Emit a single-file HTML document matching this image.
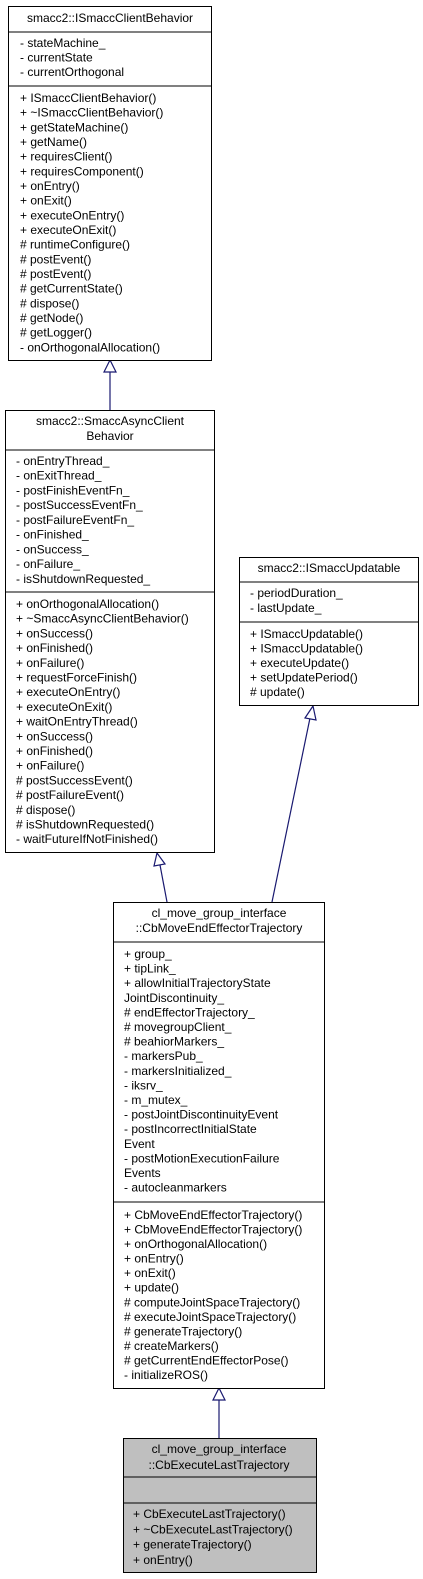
<!DOCTYPE html>
<html><head><meta charset="utf-8"><style>
html,body{margin:0;padding:0;background:#fff;}
svg{display:block;}
text{font-family:"Liberation Sans",Arial,sans-serif;fill:#000;font-size:12px;}
</style></head><body>
<svg width="423" height="1579" viewBox="0 0 423 1579" xmlns="http://www.w3.org/2000/svg">
<g stroke="#191970" stroke-width="1.2" fill="none">
<line x1="110" y1="372" x2="110" y2="410"/>
<line x1="160" y1="865" x2="167" y2="902"/>
<line x1="310" y1="718" x2="272" y2="902"/>
<line x1="219" y1="1400" x2="219" y2="1438"/>
</g>
<g stroke="#191970" stroke-width="1.2" fill="#fff">
<polygon points="110,360 104,372 116,372"/>
<polygon points="157,853 154,866 165,864"/>
<polygon points="313,706 305,718 316,720"/>
<polygon points="219,1388 213,1400 225,1400"/>
</g>

<!-- Box1 -->
<rect x="8.5" y="6.5" width="203" height="354" fill="#fff" stroke="#000"/>
<line x1="8.5" y1="32" x2="211.5" y2="32" stroke="#000"/>
<line x1="8.5" y1="86" x2="211.5" y2="86" stroke="#000"/>
<text x="110" y="22" text-anchor="middle">smacc2::ISmaccClientBehavior</text>
<text x="20" y="47">- stateMachine_</text>
<text x="20" y="61.5">- currentState</text>
<text x="20" y="76">- currentOrthogonal</text>
<text x="20" y="102">+ ISmaccClientBehavior()</text>
<text x="20" y="116.6">+ ~ISmaccClientBehavior()</text>
<text x="20" y="131.3">+ getStateMachine()</text>
<text x="20" y="146">+ getName()</text>
<text x="20" y="160.6">+ requiresClient()</text>
<text x="20" y="175.3">+ requiresComponent()</text>
<text x="20" y="190">+ onEntry()</text>
<text x="20" y="204.6">+ onExit()</text>
<text x="20" y="219.3">+ executeOnEntry()</text>
<text x="20" y="234">+ executeOnExit()</text>
<text x="20" y="248.6"># runtimeConfigure()</text>
<text x="20" y="263.3"># postEvent()</text>
<text x="20" y="278"># postEvent()</text>
<text x="20" y="292.6"># getCurrentState()</text>
<text x="20" y="307.3"># dispose()</text>
<text x="20" y="322"># getNode()</text>
<text x="20" y="336.6"># getLogger()</text>
<text x="20" y="351.3">- onOrthogonalAllocation()</text>

<!-- Box2 -->
<rect x="5.5" y="410.5" width="209" height="442" fill="#fff" stroke="#000"/>
<line x1="5.5" y1="450" x2="214.5" y2="450" stroke="#000"/>
<line x1="5.5" y1="592" x2="214.5" y2="592" stroke="#000"/>
<text x="110" y="425" text-anchor="middle">smacc2::SmaccAsyncClient</text>
<text x="110" y="440" text-anchor="middle">Behavior</text>
<text x="16" y="465">- onEntryThread_</text>
<text x="16" y="479.7">- onExitThread_</text>
<text x="16" y="494.5">- postFinishEventFn_</text>
<text x="16" y="509.2">- postSuccessEventFn_</text>
<text x="16" y="524">- postFailureEventFn_</text>
<text x="16" y="538.7">- onFinished_</text>
<text x="16" y="553.5">- onSuccess_</text>
<text x="16" y="568.2">- onFailure_</text>
<text x="16" y="583">- isShutdownRequested_</text>
<text x="16" y="608">+ onOrthogonalAllocation()</text>
<text x="16" y="622.7">+ ~SmaccAsyncClientBehavior()</text>
<text x="16" y="637.4">+ onSuccess()</text>
<text x="16" y="652.1">+ onFinished()</text>
<text x="16" y="666.8">+ onFailure()</text>
<text x="16" y="681.5">+ requestForceFinish()</text>
<text x="16" y="696.2">+ executeOnEntry()</text>
<text x="16" y="710.9">+ executeOnExit()</text>
<text x="16" y="725.6">+ waitOnEntryThread()</text>
<text x="16" y="740.3">+ onSuccess()</text>
<text x="16" y="755">+ onFinished()</text>
<text x="16" y="769.7">+ onFailure()</text>
<text x="16" y="784.4"># postSuccessEvent()</text>
<text x="16" y="799.1"># postFailureEvent()</text>
<text x="16" y="813.8"># dispose()</text>
<text x="16" y="828.5"># isShutdownRequested()</text>
<text x="16" y="843.2">- waitFutureIfNotFinished()</text>

<!-- Box3 -->
<rect x="239.5" y="557.5" width="179" height="148" fill="#fff" stroke="#000"/>
<line x1="239.5" y1="582" x2="418.5" y2="582" stroke="#000"/>
<line x1="239.5" y1="622" x2="418.5" y2="622" stroke="#000"/>
<text x="329" y="572" text-anchor="middle">smacc2::ISmaccUpdatable</text>
<text x="250" y="597">- periodDuration_</text>
<text x="250" y="612">- lastUpdate_</text>
<text x="250" y="638">+ ISmaccUpdatable()</text>
<text x="250" y="652.5">+ ISmaccUpdatable()</text>
<text x="250" y="667">+ executeUpdate()</text>
<text x="250" y="681.5">+ setUpdatePeriod()</text>
<text x="250" y="696"># update()</text>

<!-- Box4 -->
<rect x="113.5" y="902.5" width="211" height="486" fill="#fff" stroke="#000"/>
<line x1="113.5" y1="942" x2="324.5" y2="942" stroke="#000"/>
<line x1="113.5" y1="1202" x2="324.5" y2="1202" stroke="#000"/>
<text x="219" y="917" text-anchor="middle">cl_move_group_interface</text>
<text x="219" y="932" text-anchor="middle">::CbMoveEndEffectorTrajectory</text>
<text x="124" y="958">+ group_</text>
<text x="124" y="972.6">+ tipLink_</text>
<text x="124" y="987.2">+ allowInitialTrajectoryState</text>
<text x="124" y="1001.8">JointDiscontinuity_</text>
<text x="124" y="1016.4"># endEffectorTrajectory_</text>
<text x="124" y="1031"># movegroupClient_</text>
<text x="124" y="1045.6"># beahiorMarkers_</text>
<text x="124" y="1060.2">- markersPub_</text>
<text x="124" y="1074.8">- markersInitialized_</text>
<text x="124" y="1089.4">- iksrv_</text>
<text x="124" y="1104">- m_mutex_</text>
<text x="124" y="1118.6">- postJointDiscontinuityEvent</text>
<text x="124" y="1133.2">- postIncorrectInitialState</text>
<text x="124" y="1147.8">Event</text>
<text x="124" y="1162.4">- postMotionExecutionFailure</text>
<text x="124" y="1177">Events</text>
<text x="124" y="1191.6">- autocleanmarkers</text>
<text x="124" y="1219">+ CbMoveEndEffectorTrajectory()</text>
<text x="124" y="1233.5">+ CbMoveEndEffectorTrajectory()</text>
<text x="124" y="1248.1">+ onOrthogonalAllocation()</text>
<text x="124" y="1262.6">+ onEntry()</text>
<text x="124" y="1277.2">+ onExit()</text>
<text x="124" y="1291.7">+ update()</text>
<text x="124" y="1306.3"># computeJointSpaceTrajectory()</text>
<text x="124" y="1320.8"># executeJointSpaceTrajectory()</text>
<text x="124" y="1335.4"># generateTrajectory()</text>
<text x="124" y="1349.9"># createMarkers()</text>
<text x="124" y="1364.5"># getCurrentEndEffectorPose()</text>
<text x="124" y="1379">- initializeROS()</text>

<!-- Box5 -->
<rect x="123.5" y="1438.5" width="193" height="134" fill="#bfbfbf" stroke="#000"/>
<line x1="123.5" y1="1477" x2="316.5" y2="1477" stroke="#000"/>
<line x1="123.5" y1="1503" x2="316.5" y2="1503" stroke="#000"/>
<text x="219" y="1453" text-anchor="middle">cl_move_group_interface</text>
<text x="219" y="1469" text-anchor="middle">::CbExecuteLastTrajectory</text>
<text x="133" y="1518">+ CbExecuteLastTrajectory()</text>
<text x="133" y="1533.3">+ ~CbExecuteLastTrajectory()</text>
<text x="133" y="1548.6">+ generateTrajectory()</text>
<text x="133" y="1564">+ onEntry()</text>
</svg>
</body></html>
